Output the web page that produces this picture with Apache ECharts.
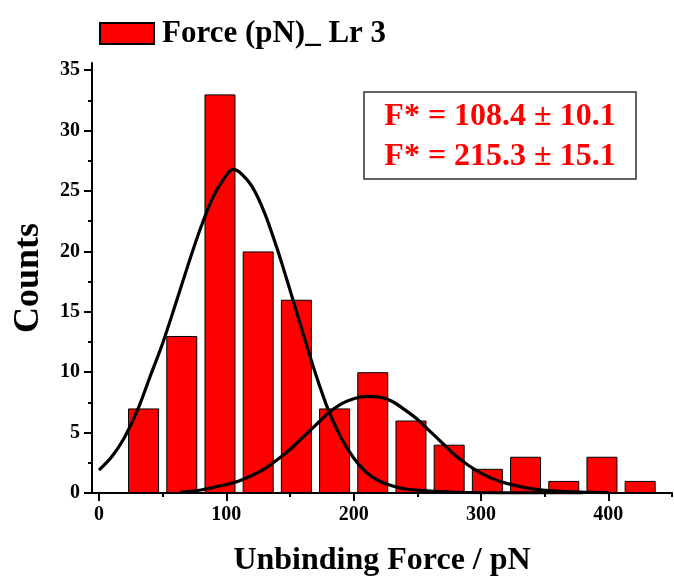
<!DOCTYPE html>
<html>
<head>
<meta charset="utf-8">
<script src="https://cdn.jsdelivr.net/npm/echarts@6/dist/echarts.min.js"></script>
<style>
  html, body { margin: 0; padding: 0; background: #fff; }
  #chart { width: 674px; height: 577px; }
</style>
</head>
<body>
<div id="chart"></div>
<script>
// histogram bins (centre of each 30 pN bin) and counts
const binCenters = [35, 65, 95, 125, 155, 185, 215, 245, 275, 305, 335, 365, 395, 425];
const counts = [7, 13, 33, 20, 16, 7, 10, 6, 4, 2, 3, 1, 3, 1];

// first fitted peak
const fit1X = [0, 10, 20, 30, 40, 50, 60, 70, 80, 90, 100, 105, 110, 120, 130, 140, 150, 160, 170, 180, 190, 200, 210, 220, 230, 240, 260, 280, 300, 340, 380];
const fit1Y = [1.9, 3.0, 4.6, 6.8, 9.6, 12.4, 15.6, 18.9, 22.0, 24.6, 26.3, 26.8, 26.6, 25.4, 23.2, 20.2, 16.8, 13.3, 9.9, 6.9, 4.6, 2.9, 1.7, 1.0, 0.6, 0.35, 0.15, 0.06, 0.03, 0.01, 0];

// second fitted peak
const fit2X = [64, 80, 100, 110, 120, 130, 140, 150, 160, 170, 180, 190, 200, 210, 220, 230, 240, 250, 260, 270, 280, 290, 300, 310, 320, 340, 360, 380, 400];
const fit2Y = [0.07, 0.25, 0.7, 1.0, 1.45, 2.0, 2.75, 3.6, 4.6, 5.6, 6.6, 7.35, 7.8, 8.0, 7.95, 7.6, 6.9, 6.1, 5.1, 4.1, 3.1, 2.3, 1.65, 1.15, 0.8, 0.35, 0.15, 0.07, 0.03];

const xMajor = [0, 100, 200, 300, 400];
const xMinor = [50, 150, 250, 350, 450];
const yMajor = [0, 5, 10, 15, 20, 25, 30, 35];
const yMinor = [2.5, 7.5, 12.5, 17.5, 22.5, 27.5, 32.5];

const fitLabels = ['F* = 108.4 ± 10.1', 'F* = 215.3 ± 15.1'];
const seriesName = 'Force (pN)_ Lr 3';

const font = 'Liberation Serif';
const xRange = {min: -5.5, max: 450};
const yRange = {min: 0, max: 35.6};

const zip = (xs, ys) => xs.map((x, i) => [x, ys[i]]);

const chart = echarts.init(document.getElementById('chart'));

// invisible axis used only to draw the short minor ticks
const minorAxis = (extra) => Object.assign({
  type: 'value',
  axisLine: {show: false, onZero: false},
  axisLabel: {show: false},
  splitLine: {show: false},
}, extra);

chart.setOption({
  animation: false,
  grid: {left: 92, right: 2, top: 63, bottom: 84, outerBoundsMode: 'none'},
  legend: {
    data: [{name: seriesName, icon: 'rect'}],
    left: 99,
    top: 18,
    padding: 0,
    itemWidth: 54,
    itemHeight: 21,
    textStyle: {fontFamily: font, fontWeight: 'bold', fontSize: 31, color: '#000', padding: [0, 0, 0, 3]},
  },
  xAxis: [
    {
      type: 'value',
      position: 'bottom',
      ...xRange,
      name: 'Unbinding Force / pN',
      nameLocation: 'middle',
      nameGap: 52,
      nameTextStyle: {fontFamily: font, fontWeight: 'bold', fontSize: 32, color: '#000'},
      axisLine: {onZero: false, lineStyle: {color: '#000', width: 2}},
      axisTick: {customValues: xMajor, length: 8, lineStyle: {width: 2, color: '#000'}},
      axisLabel: {customValues: xMajor, margin: 12, fontFamily: font, fontWeight: 'bold', fontSize: 20, color: '#000'},
      splitLine: {show: false},
    },
    minorAxis({
      position: 'bottom',
      ...xRange,
      axisTick: {customValues: xMinor, length: 4, lineStyle: {width: 2, color: '#000'}},
    }),
  ],
  yAxis: [
    {
      type: 'value',
      position: 'left',
      ...yRange,
      name: 'Counts',
      nameLocation: 'middle',
      nameGap: 45,
      nameTextStyle: {fontFamily: font, fontWeight: 'bold', fontSize: 36, color: '#000'},
      axisLine: {onZero: false, lineStyle: {color: '#000', width: 2}},
      axisTick: {customValues: yMajor, length: 8, lineStyle: {width: 2, color: '#000'}},
      axisLabel: {customValues: yMajor, margin: 12, fontFamily: font, fontWeight: 'bold', fontSize: 20, color: '#000'},
      splitLine: {show: false},
    },
    minorAxis({
      position: 'left',
      ...yRange,
      axisTick: {customValues: yMinor, length: 4, lineStyle: {width: 2, color: '#000'}},
    }),
  ],
  series: [
    {
      name: seriesName,
      type: 'bar',
      data: zip(binCenters, counts),
      barWidth: 31,
      itemStyle: {color: '#ff0000', borderColor: '#000', borderWidth: 1},
    },
    {
      name: 'fit1',
      type: 'line',
      data: zip(fit1X, fit1Y),
      smooth: 0.3,
      showSymbol: false,
      lineStyle: {color: '#000', width: 3.2},
      z: 5,
    },
    {
      name: 'fit2',
      type: 'line',
      data: zip(fit2X, fit2Y),
      smooth: 0.3,
      showSymbol: false,
      lineStyle: {color: '#000', width: 3.2},
      z: 5,
    },
  ],
  graphic: [
    {
      type: 'rect',
      shape: {x: 364, y: 92, width: 272, height: 87},
      style: {fill: '#fff', stroke: '#333', lineWidth: 1.5},
      z: 10,
    },
    ...fitLabels.map((t, i) => ({
      type: 'text',
      x: 500,
      y: 117 + i * 40,
      style: {
        text: t,
        font: 'bold 32px ' + font,
        fill: '#ff0000',
        align: 'center',
        verticalAlign: 'middle',
      },
      z: 11,
    })),
  ],
});
</script>
</body>
</html>
